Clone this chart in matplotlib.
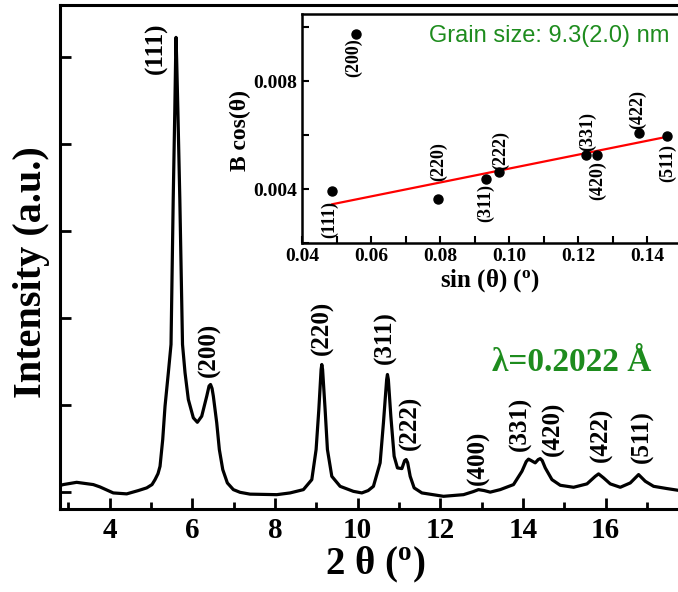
import numpy as np
import matplotlib
matplotlib.use("Agg")
import matplotlib.pyplot as plt
from matplotlib.ticker import MultipleLocator

plt.rcParams['font.family'] = ['Liberation Serif', 'DejaVu Serif']
plt.rcParams['font.weight'] = 'bold'
plt.rcParams['mathtext.fontset'] = 'custom'
plt.rcParams['mathtext.rm'] = 'Liberation Serif:bold'
plt.rcParams['mathtext.it'] = 'Liberation Serif:italic:bold'

# XRD pattern (2 theta in deg, intensity in arb. units)
two_theta = [2.799, 2.879, 3.203, 3.605, 3.767, 4.089, 4.414, 4.694, 4.898, 5.026,
             5.099, 5.171, 5.220, 5.285, 5.341, 5.421, 5.486, 5.539, 5.578, 5.597,
             5.607, 5.622, 5.651, 5.699, 5.764, 5.825, 5.905, 6.026, 6.123, 6.229,
             6.350, 6.406, 6.442, 6.479, 6.510, 6.592, 6.655, 6.738, 6.849, 6.994,
             7.156, 7.398, 8.045, 8.367, 8.689, 8.892, 8.996, 9.062, 9.117, 9.134,
             9.153, 9.214, 9.270, 9.376, 9.577, 9.899, 10.102, 10.255, 10.383, 10.545,
             10.625, 10.703, 10.722, 10.744, 10.804, 10.884, 10.964, 11.071, 11.138, 11.175,
             11.211, 11.272, 11.368, 11.555, 12.078, 12.562, 12.797, 12.925, 13.063, 13.208,
             13.450, 13.772, 13.976, 14.080, 14.135, 14.201, 14.297, 14.370, 14.419, 14.467,
             14.540, 14.702, 14.903, 15.225, 15.549, 15.750, 15.830, 15.951, 16.113, 16.355,
             16.597, 16.798, 16.960, 17.161, 17.486, 17.759]
intensity = [0.069, 0.081, 0.107, 0.081, 0.054, -0.015, -0.026, 0.012, 0.043, 0.081,
             0.138, 0.207, 0.291, 0.599, 0.983, 1.368, 1.694, 3.364, 4.401, 4.977,
             5.227, 4.977, 4.401, 3.364, 1.694, 1.368, 1.060, 0.849, 0.798, 0.868,
             1.098, 1.215, 1.233, 1.187, 1.098, 0.791, 0.484, 0.253, 0.100, 0.023,
             -0.008, -0.029, -0.035, -0.015, 0.023, 0.138, 0.484, 0.945, 1.406, 1.463,
             1.406, 0.945, 0.484, 0.176, 0.061, 0.003, -0.015, 0.012, 0.061, 0.331,
             0.791, 1.290, 1.348, 1.290, 0.868, 0.407, 0.273, 0.265, 0.357, 0.369,
             0.334, 0.176, 0.043, -0.015, -0.054, -0.035, 0.000, 0.023, 0.012, -0.006,
             0.023, 0.081, 0.234, 0.346, 0.374, 0.357, 0.331, 0.369, 0.380, 0.357,
             0.273, 0.138, 0.073, 0.050, 0.089, 0.176, 0.204, 0.158, 0.089, 0.050,
             0.100, 0.196, 0.119, 0.061, 0.035, 0.015]

peak_names = ['(111)', '(200)', '(220)', '(311)', '(222)', '(400)',
              '(331)', '(420)', '(422)', '(511)']
label_x = [5.128, 6.406, 9.142, 10.667, 11.272, 12.918, 13.935, 14.734, 15.896, 16.888]
label_y = [5.104, 1.636, 1.889, 1.774, 0.795, 0.392, 0.783, 0.726, 0.657, 0.634]

# Williamson-Hall inset
wh_names = ['(111)', '(200)', '(220)', '(311)', '(222)', '(331)', '(420)', '(422)', '(511)']
sin_theta = [0.0488, 0.0557, 0.0795, 0.0932, 0.0972, 0.1223, 0.1254, 0.1376, 0.1457]
b_cos = [0.00394, 0.00977, 0.00362, 0.00437, 0.00462, 0.00528, 0.00528, 0.00609, 0.00596]
# label offsets in points (dx, dy) from each point
wh_off = [(-2, -21), (-2, -17), (0, 27), (0, -17), (1, 16), (1, 17), (1, -19), (-1, 17), (1, -19)]
fit_x = [0.0488, 0.1457]
fit_y = [0.00344, 0.00594]

fig = plt.figure(figsize=(6.78, 5.92), dpi=100)
ax = fig.add_axes([60/678, 83/592, 620/678, 504/592])
ax.plot(two_theta, intensity, color='black', lw=2.3, solid_joinstyle='round')
ax.set_xlim(2.8, 17.8)
ax.set_ylim(-0.2, 5.6)
ax.xaxis.set_major_locator(MultipleLocator(2))
ax.xaxis.set_minor_locator(MultipleLocator(1))
ax.yaxis.set_major_locator(MultipleLocator(1))
ax.tick_params(axis='both', which='major', direction='in', length=8, width=2)
ax.tick_params(axis='x', which='minor', direction='in', length=5, width=2)
ax.tick_params(axis='x', labelsize=21, pad=6)
ax.tick_params(axis='y', labelleft=False)
for s in ax.spines.values():
    s.set_linewidth(2.2)
ax.set_xlabel(r'2 θ ($\mathrm{^o}$)', fontsize=28, fontweight='bold')
ax.xaxis.set_label_coords(0.508, -0.071)
ax.set_ylabel('Intensity (a.u.)', fontsize=29, fontweight='bold')
ax.yaxis.set_label_coords(-0.016, 0.47)

for name, lx, ly in zip(peak_names, label_x, label_y):
    ax.text(lx, ly, name, rotation=90, ha='center', va='center', fontsize=18, fontweight='bold')

ax.text(15.17, 1.486, 'λ=0.2022 Å', color='#1e8c1e', fontsize=24, fontweight='bold',
        ha='center', va='center')

# inset
ins = fig.add_axes([302/678, 349/592, 379.5/678, 229/592])
ins.set_facecolor('white')
ins.plot(fit_x, fit_y, color='red', lw=1.6, zorder=2)
ins.plot(sin_theta, b_cos, 'o', color='black', markersize=6.5, zorder=3)
for name, px, py, off in zip(wh_names, sin_theta, b_cos, wh_off):
    ins.annotate(name, (px, py), xytext=off, textcoords='offset points', rotation=90,
                 ha='center', va='center', fontsize=13, fontweight='bold')
ins.set_xlim(0.04, 0.15)
ins.set_ylim(0.002, 0.0105)
ins.xaxis.set_major_locator(MultipleLocator(0.02))
ins.xaxis.set_minor_locator(MultipleLocator(0.01))
ins.yaxis.set_major_locator(MultipleLocator(0.004))
ins.yaxis.set_minor_locator(MultipleLocator(0.002))
ins.xaxis.set_major_formatter(plt.FuncFormatter(lambda v, p: '%.2f' % v))
ins.yaxis.set_major_formatter(plt.FuncFormatter(lambda v, p: '%.3f' % v))
ins.tick_params(axis='both', which='both', direction='in', width=1.5, labelsize=14)
ins.tick_params(which='major', length=5)
ins.tick_params(which='minor', length=5)
for s in ins.spines.values():
    s.set_linewidth(1.8)
ins.set_xlabel(r'sin (θ) ($\mathrm{^o}$)', fontsize=18, fontweight='bold')
ins.xaxis.set_label_coords(0.495, -0.105)
ins.set_ylabel('B cos(θ)', fontsize=17, fontweight='bold')
ins.yaxis.set_label_coords(-0.134, 0.49)
ins.text(0.967, 0.905, 'Grain size: 9.3(2.0) nm', transform=ins.transAxes, ha='right',
         va='center', color='#1e8c1e', fontsize=17, fontweight='normal',
         family=['Liberation Sans', 'DejaVu Sans'])

fig.savefig('out.png', dpi=100)
